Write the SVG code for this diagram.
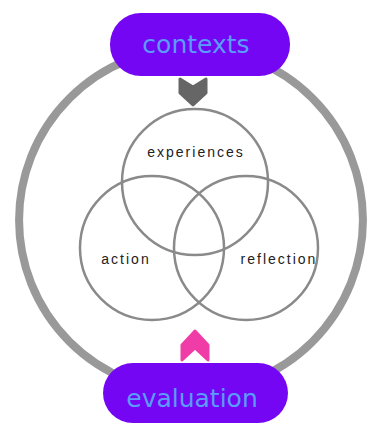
<svg xmlns="http://www.w3.org/2000/svg" width="372" height="424" viewBox="0 0 372 424">
  <style>
    .pill { fill: #7506f4; }
    .pilltxt { font-family: "DejaVu Sans", sans-serif; font-size: 25px; fill: #5a9cff; text-anchor: middle; }
    .venn { fill: none; stroke: #8a8a8a; stroke-width: 2.5; }
    .vtxt { font-family: "Liberation Sans", Arial, sans-serif; font-size: 14px; fill: #222; text-anchor: middle; letter-spacing: 2px; }
    .ring { fill: none; stroke: #999; stroke-width: 8; }
  </style>
  <rect width="372" height="424" fill="#fff"/>
  <g id="connectors">
    <path class="ring" d="M 191 48 A 172 172 0 0 0 191 392"/>
    <path class="ring" d="M 191 48 A 172 172 0 0 1 191 392"/>
    <polygon points="180,79 193,87 206,79 206,93 193,105 180,93" fill="#666" stroke="#666" stroke-width="3" stroke-linejoin="round"/>
    <polygon points="195,331 208,345 208,360 195,348 182,360 182,345" fill="#f03ca6" stroke="#f03ca6" stroke-width="3" stroke-linejoin="round"/>
  </g>
  <g id="experiences">
    <circle class="venn" cx="195" cy="182" r="73"/>
    <text class="vtxt" x="196" y="157">experiences</text>
  </g>
  <g id="action">
    <circle class="venn" cx="152" cy="248" r="72"/>
    <text class="vtxt" x="126" y="264">action</text>
  </g>
  <g id="reflection">
    <circle class="venn" cx="246" cy="248" r="72"/>
    <text class="vtxt" x="279" y="264">reflection</text>
  </g>
  <g id="contexts">
    <rect class="pill" x="110" y="13" width="180" height="63" rx="31"/>
    <text class="pilltxt" x="196" y="53">contexts</text>
  </g>
  <g id="evaluation">
    <rect class="pill" x="103" y="363" width="185" height="60" rx="30"/>
    <text class="pilltxt" x="192" y="407">evaluation</text>
  </g>
</svg>
